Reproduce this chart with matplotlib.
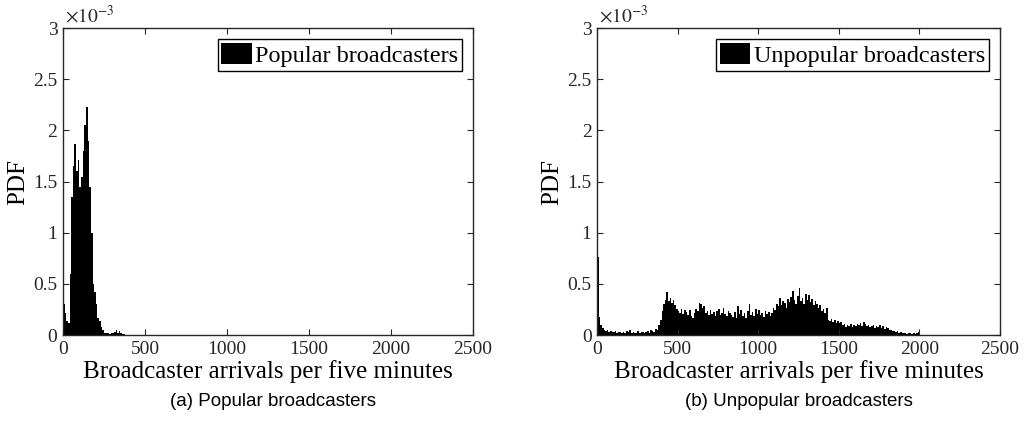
import matplotlib
matplotlib.use("Agg")
import matplotlib.pyplot as plt
import matplotlib.ticker as ticker
import numpy as np

# --- Histogram data (PDF, in units of 1e-3), bin width 10 arrivals ---
bin_width = 10

popular_pdf = [
    0.30, 0.22, 0.14, 0.12, 0.60, 1.35, 1.65, 1.87, 1.60, 1.71,
    1.45, 1.55, 1.80, 2.05, 2.23, 1.90, 1.45, 1.00, 0.50, 0.42,
    0.30, 0.17, 0.14, 0.08, 0.05, 0.02, 0.02, 0.02, 0.015, 0.02,
    0.02, 0.03, 0.05, 0.02, 0.04, 0.02, 0.01, 0.01, 0.0, 0.0,
]

unpopular_pdf = [
    0.76, 0.18, 0.10, 0.07, 0.05, 0.04, 0.05, 0.03, 0.04, 0.03,
    0.03, 0.04, 0.02, 0.03, 0.03, 0.02, 0.03, 0.02, 0.04, 0.03,
    0.05, 0.02, 0.03, 0.02, 0.02, 0.04, 0.02, 0.03, 0.03, 0.02,
    0.03, 0.04, 0.02, 0.05, 0.04, 0.03, 0.06, 0.05, 0.10, 0.15,
    0.24, 0.30, 0.34, 0.42, 0.33, 0.36, 0.31, 0.34, 0.29, 0.26,
    0.24, 0.22, 0.26, 0.21, 0.25, 0.23, 0.20, 0.25, 0.19, 0.17,
    0.22, 0.26, 0.24, 0.31, 0.30, 0.27, 0.28, 0.22, 0.24, 0.20,
    0.25, 0.21, 0.23, 0.19, 0.24, 0.26, 0.20, 0.22, 0.27, 0.21,
    0.19, 0.24, 0.22, 0.20, 0.18, 0.23, 0.17, 0.28, 0.21, 0.25,
    0.19, 0.22, 0.17, 0.24, 0.30, 0.20, 0.23, 0.19, 0.26, 0.21,
    0.25, 0.20, 0.22, 0.18, 0.24, 0.21, 0.23, 0.19, 0.22, 0.27,
    0.25, 0.30, 0.28, 0.36, 0.29, 0.33, 0.31, 0.27, 0.35, 0.32,
    0.37, 0.43, 0.34, 0.30, 0.38, 0.46, 0.33, 0.36, 0.30, 0.40,
    0.34, 0.39, 0.32, 0.35, 0.29, 0.33, 0.30, 0.27, 0.29, 0.24,
    0.26, 0.22, 0.27, 0.15, 0.14, 0.16, 0.13, 0.15, 0.12, 0.14,
    0.12, 0.13, 0.10, 0.11, 0.08, 0.10, 0.09, 0.11, 0.08, 0.10,
    0.09, 0.11, 0.10, 0.12, 0.09, 0.13, 0.11, 0.09, 0.10, 0.08,
    0.09, 0.10, 0.07, 0.09, 0.08, 0.10, 0.07, 0.09, 0.06, 0.08,
    0.07, 0.05, 0.05, 0.04, 0.04, 0.03, 0.04, 0.02, 0.03, 0.02,
    0.02, 0.02, 0.01, 0.02, 0.02, 0.01, 0.02, 0.01, 0.02, 0.03,
]

x_ticks = [0, 500, 1000, 1500, 2000, 2500]
y_ticks = [0, 0.5e-3, 1e-3, 1.5e-3, 2e-3, 2.5e-3, 3e-3]

plt.rcParams.update({
    "font.family": "Liberation Serif",
    "mathtext.fontset": "stix",
    "axes.edgecolor": "#262626",
    "axes.linewidth": 1.0,
})

fig = plt.figure(figsize=(10.33, 4.33), dpi=100)
ax_a = fig.add_axes([0.061, 0.226, 0.397, 0.709])
ax_b = fig.add_axes([0.578, 0.226, 0.390, 0.709])


def draw_hist(ax, pdf, label):
    pdf = np.asarray(pdf) * 1e-3
    edges = np.arange(len(pdf) + 1) * bin_width
    ax.stairs(pdf, edges, fill=True, color="black", label=label)
    ax.set_xlim(0, 2500)
    ax.set_ylim(0, 3e-3)
    ax.set_xticks(x_ticks)
    ax.set_yticks(y_ticks)
    ax.yaxis.set_major_formatter(ticker.FuncFormatter(lambda v, p: f"{v * 1e3:g}"))
    ax.text(0.005, 1.005, r"$\times 10^{-3}$", transform=ax.transAxes,
            ha="left", va="bottom", fontsize=14, color="#262626")
    ax.tick_params(direction="in", length=4, width=0.8, labelsize=14,
                   top=True, right=True, pad=4, colors="#262626")
    ax.set_xlabel("Broadcaster arrivals per five minutes", fontsize=18, labelpad=2)
    ax.set_ylabel("PDF", fontsize=18, labelpad=3)
    leg = ax.legend(loc="upper right", fontsize=17.5, fancybox=False,
                    framealpha=1, edgecolor="black", borderpad=0.15,
                    handlelength=1.25, handleheight=1.0, handletextpad=0.15,
                    borderaxespad=0.45)
    leg.get_frame().set_linewidth(1.0)


draw_hist(ax_a, popular_pdf, "Popular broadcasters")
draw_hist(ax_b, unpopular_pdf, "Unpopular broadcasters")

fig.text(0.264, 0.072, "(a) Popular broadcasters", ha="center", va="center",
         fontsize=13.5, family="Liberation Sans")
fig.text(0.773, 0.072, "(b) Unpopular broadcasters", ha="center", va="center",
         fontsize=13.5, family="Liberation Sans")

fig.savefig("out.png", dpi=100)
